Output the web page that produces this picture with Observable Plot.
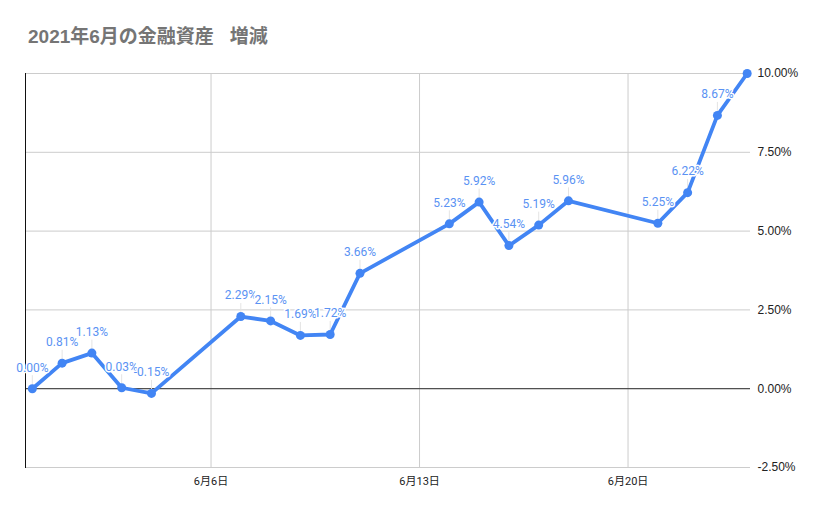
<!DOCTYPE html>
<html>
<head>
<meta charset="utf-8">
<script src="https://cdn.jsdelivr.net/npm/d3@7"></script>
<script src="https://cdn.jsdelivr.net/npm/@observablehq/plot@0.6"></script>
<style>
  body { margin: 0; background: #fff; }
  #title-wrap { height: 60px; position: relative; }
  #title { position: absolute; left: 28px; top: 25px; font: bold 19px/24px "Liberation Sans", "Noto Sans CJK JP", sans-serif; color: #757575; white-space: pre; }
</style>
</head>
<body>
<div id="title-wrap"><div id="title">2021年6月の金融資産   増減</div></div>
<div id="chart"></div>
<script>
const dates = ["2021-05-31","2021-06-01","2021-06-02","2021-06-03","2021-06-04",
  "2021-06-07","2021-06-08","2021-06-09","2021-06-10","2021-06-11",
  "2021-06-14","2021-06-15","2021-06-16","2021-06-17","2021-06-18",
  "2021-06-21","2021-06-22","2021-06-23","2021-06-24"];
const values = [0.00, 0.81, 1.13, 0.03, -0.15,
  2.29, 2.15, 1.69, 1.72, 3.66,
  5.23, 5.92, 4.54, 5.19, 5.96,
  5.25, 6.22, 8.67, 10.00];
const xTicks = ["2021-06-06","2021-06-13","2021-06-20"];
const yTicks = [-2.5, 0, 2.5, 5, 7.5, 10];

const data = dates.map((d, i) => ({date: new Date(d), v: values[i], i}));
const labelData = data.filter(d => d.i < data.length - 1);
const xTickDates = xTicks.map(d => new Date(d));
const blue = "#4285f4";

const chart = Plot.plot({
  width: 829,
  height: 454,
  marginLeft: 25,
  marginRight: 79,
  marginTop: 13,
  marginBottom: 47,
  style: {fontFamily: "Roboto, 'Noto Sans CJK JP', sans-serif", fontSize: "11px", background: "#fff"},
  x: {type: "utc", domain: [new Date(Date.UTC(2021,4,30,18,30)), new Date(Date.UTC(2021,5,24,2,40))]},
  y: {domain: [-2.5, 10]},
  marks: [
    Plot.gridY(yTicks, {stroke: "#cccccc", strokeOpacity: 1}),
    Plot.gridX(xTickDates, {stroke: "#cccccc", strokeOpacity: 1}),
    Plot.ruleY([0], {stroke: "#333"}),
    Plot.frame({anchor: "left", stroke: "#111"}),
    Plot.axisY(yTicks, {anchor: "right", tickSize: 0, tickPadding: 7, label: null, tickFormat: d => d.toFixed(2) + "%", fill: "#222", fontSize: 12, fontFamily: "'Liberation Sans', Arial, sans-serif", textAnchor: "start"}),
    Plot.axisX(xTickDates, {anchor: "bottom", tickSize: 0, tickPadding: 10, label: null, tickFormat: d => `${d.getUTCMonth()+1}月${d.getUTCDate()}日`, fill: "#222", fontSize: 11}),
    Plot.ruleX(labelData, {x: "date", y1: "v", y2: "v", insetTop: -13, stroke: "#e4e4e4", strokeWidth: 1}),
    Plot.line(data, {x: "date", y: "v", stroke: blue, strokeWidth: 3.8, curve: "linear"}),
    Plot.dot(data, {x: "date", y: "v", r: 4.5, fill: blue, stroke: "none"}),
    Plot.text(labelData, {x: "date", y: "v", text: d => d.v.toFixed(2) + "%", dy: -21, fill: "#5a92f3", stroke: "white", strokeWidth: 3, fontSize: 12})
  ]
});
document.getElementById("chart").appendChild(chart);
</script>
</body>
</html>
